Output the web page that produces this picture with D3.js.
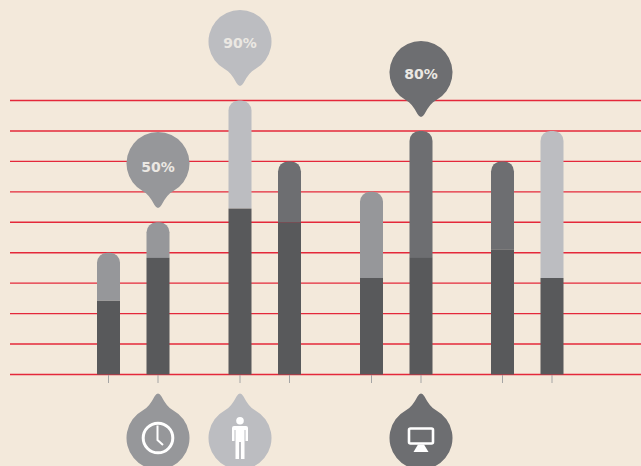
<!DOCTYPE html>
<html><head><meta charset="utf-8">
<script src="https://cdn.jsdelivr.net/npm/d3@7"></script>
<style>html,body{margin:0;padding:0;background:#f3e9db;overflow:hidden}svg{display:block}</style>
</head><body><svg id="c" width="641" height="466"></svg>
<script>
const categories = ["A1","A2","B1","B2","C1","C2","D1","D2"];
const lowerValues = [24.2,38.3,54.5,50,31.7,38.3,41,31.7];
const totalValues = [40,50,90,70,60,80,70,80];
const upperShades = ["mid","mid","light","slate","mid","slate","slate","light"];
const yTicks = [0,10,20,30,40,50,60,70,80,90];
const balloonBars = ["A2","B1","C2"];
const balloonLabels = ["50%","90%","80%"];
const balloonShades = ["mid","light","slate"];
const iconNames = ["clock","person","monitor"];

const colors = {mid:"#96979a",light:"#bcbdc1",slate:"#6d6e71",dark:"#58595b"};
const svg = d3.select("#c");
const y = d3.scaleLinear().domain([0,90]).range([374.5,100.5]);
const centers = [108.5,158,240,289.5,371.5,421,502.5,552];
const x = d3.scaleOrdinal().domain(categories).range(centers);
const bw = 23, r = 31.5;

svg.append("g").selectAll("line").data(yTicks).join("line")
  .attr("x1",10).attr("x2",641).attr("y1",d=>y(d)).attr("y2",d=>y(d))
  .attr("stroke","#e4283a").attr("stroke-width",1.4);

svg.append("g").selectAll("line").data(categories).join("line")
  .attr("x1",d=>x(d)).attr("x2",d=>x(d)).attr("y1",375).attr("y2",383)
  .attr("stroke","#a5a5a5").attr("stroke-width",1);

function roundedTop(cx,yTop,yBot,w,rad){
  const l=cx-w/2,rr=cx+w/2;
  return `M${l},${yBot}V${yTop+rad}A${rad},${rad} 0 0 1 ${l+rad},${yTop}H${rr-rad}A${rad},${rad} 0 0 1 ${rr},${yTop+rad}V${yBot}Z`;
}
const barG = svg.append("g");
barG.selectAll("path").data(categories).join("path")
  .attr("d",(d,i)=>roundedTop(x(d),y(totalValues[i]),y(lowerValues[i]),bw,10))
  .attr("fill",(d,i)=>colors[upperShades[i]]);
barG.selectAll("rect").data(categories).join("rect")
  .attr("x",d=>x(d)-bw/2).attr("width",bw)
  .attr("y",(d,i)=>y(lowerValues[i])).attr("height",(d,i)=>y(0)-y(lowerValues[i]))
  .attr("fill",colors.dark);

// drop: circle with tapered tail; s=1 tail below, s=-1 tail above
function drop(cx,cy,s){
  const bx=15, by=Math.sqrt(r*r-bx*bx);
  return `M${cx-bx},${cy+s*by}`+
    `A${r},${r} 0 1 ${s>0?1:0} ${cx+bx},${cy+s*by}`+
    `Q${cx+9},${cy+s*(by+3)} ${cx+3.5},${cy+s*41.5}`+
    `Q${cx},${cy+s*47.5} ${cx-3.5},${cy+s*41.5}`+
    `Q${cx-9},${cy+s*(by+3)} ${cx-bx},${cy+s*by}Z`;
}
const topCy = [163.5,41.5,72.5];
const labelBase = [172,48,79];
const bubbles = svg.append("g");
balloonBars.forEach((b,i)=>{
  bubbles.append("path").attr("d",drop(x(b),topCy[i],1)).attr("fill",colors[balloonShades[i]]);
  bubbles.append("text").attr("x",x(b)).attr("y",labelBase[i])
    .attr("text-anchor","middle").attr("font-family","'DejaVu Sans'").attr("font-weight","bold")
    .attr("font-size",14).attr("fill","#ebe8e3").text(balloonLabels[i]);
});

const botCy = 438;
balloonBars.forEach((b,i)=>{
  const cx=x(b);
  svg.append("path").attr("d",drop(cx,botCy,-1)).attr("fill",colors[balloonShades[i]]);
  const ic=svg.append("g").attr("transform",`translate(${cx},${botCy})`);
  if(iconNames[i]==="clock"){
    ic.append("circle").attr("r",14.8).attr("fill","none").attr("stroke","#fff").attr("stroke-width",3);
    ic.append("path").attr("d","M-0.5,-12.5V2L5,7").attr("fill","none").attr("stroke","#fff").attr("stroke-width",2);
  } else if(iconNames[i]==="person"){
    ic.append("circle").attr("cy",-17.3).attr("r",3.8).attr("fill","#fff");
    ic.append("path").attr("fill","#fff")
      .attr("d","M-6,-12H6Q8,-12 8,-10V3H5.5V-8H4.5V21H1V4H-1V21H-4.5V-8H-5.5V3H-8V-10Q-8,-12 -6,-12Z");
  } else {
    ic.append("rect").attr("x",-12).attr("y",-9.5).attr("width",24).attr("height",15).attr("rx",1.5)
      .attr("fill","none").attr("stroke","#fff").attr("stroke-width",2.6);
    ic.append("path").attr("fill","#fff").attr("d","M-3,6.5H3L7.5,14H-7.5Z");
  }
});
</script></body></html>
